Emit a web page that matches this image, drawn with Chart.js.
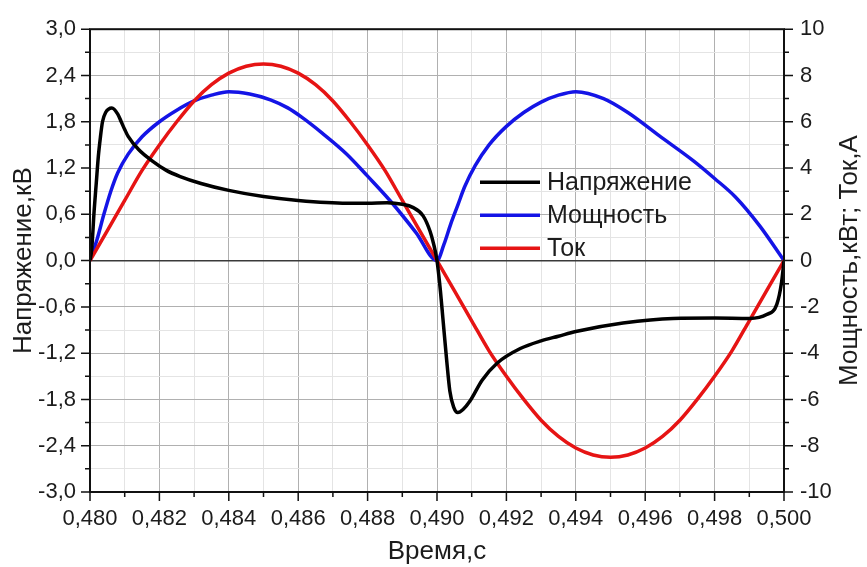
<!DOCTYPE html>
<html>
<head>
<meta charset="utf-8">
<title>Напряжение, мощность и ток</title>
<script src="https://cdn.jsdelivr.net/npm/chart.js@4.4.1/dist/chart.umd.min.js"></script>
<style>
  html, body { margin: 0; padding: 0; background: #fff; }
  #wrap { position: relative; width: 867px; height: 567px; }
</style>
</head>
<body>
<div id="wrap"><canvas id="waveChart"></canvas></div>
<script>
  /* Напряжение (кВ, левая ось), мощность (кВт) и ток (А) на правой оси */
  'use strict';

  var voltageTime = [
    0.4800, 0.48005, 0.48012, 0.48018, 0.48024, 0.48030, 0.48036, 0.48045, 0.48063,
    0.48080, 0.48090, 0.48100, 0.48110, 0.48140, 0.48180, 0.48220, 0.48260, 0.48320,
    0.48400, 0.48500, 0.48600, 0.48740, 0.48800, 0.48856, 0.48900, 0.48930, 0.48960,
    0.48980, 0.48990, 0.49000,
    0.49010, 0.49017, 0.49027, 0.49037, 0.49048, 0.49060, 0.49075, 0.49095, 0.49130,
    0.49173, 0.49240, 0.49300, 0.49350, 0.49400, 0.49536, 0.49680, 0.49800, 0.49900,
    0.49950, 0.49979, 0.49993, 0.50000
  ];
  var voltageValues = [
    0, 0.15, 0.65, 1.00, 1.35, 1.60, 1.80, 1.92, 1.98,
    1.90, 1.80, 1.70, 1.61, 1.44, 1.29, 1.17, 1.09, 1.00,
    0.91, 0.83, 0.78, 0.745, 0.745, 0.75, 0.73, 0.69, 0.58,
    0.38, 0.22, 0,
    -0.40, -0.75, -1.25, -1.69, -1.90, -1.97, -1.93, -1.82, -1.55,
    -1.33, -1.14, -1.04, -0.98, -0.92, -0.81, -0.75, -0.745, -0.75,
    -0.70, -0.57, -0.28, 0
  ];

  var powerTime = [
    0.4800, 0.4802, 0.4804, 0.4806, 0.4808, 0.4811, 0.4815, 0.4820, 0.4825, 0.4830,
    0.4835, 0.4840, 0.4846, 0.4852, 0.4857, 0.4861, 0.4867, 0.4874, 0.4880, 0.4887,
    0.4894, 0.4900,
    0.4902, 0.4904, 0.4906, 0.4908, 0.4911, 0.4915, 0.4920, 0.4925, 0.4930, 0.4935,
    0.4940, 0.4948, 0.4955, 0.4964, 0.4974, 0.4980, 0.4986, 0.4993, 0.5000
  ];
  var powerValues = [
    0, 0.9, 2.0, 3.0, 3.8, 4.6, 5.35, 6.0, 6.5, 6.9,
    7.15, 7.3, 7.2, 6.95, 6.6, 6.2, 5.5, 4.6, 3.65, 2.5,
    1.2, 0,
    0.7, 1.6, 2.4, 3.2, 4.1, 5.0, 5.8, 6.4, 6.85, 7.15,
    7.3, 7.0, 6.4, 5.4, 4.3, 3.55, 2.75, 1.5, 0
  ];

  var currentTime = [
    0.4800, 0.4805, 0.4810, 0.4815, 0.4820, 0.4825, 0.4830, 0.4835, 0.4840, 0.4845,
    0.4850, 0.4855, 0.4860, 0.4865, 0.4870, 0.4875, 0.4880, 0.4885, 0.4890, 0.4895,
    0.4900, 0.4905, 0.4910, 0.4915, 0.4920, 0.4925, 0.4930, 0.4935, 0.4940, 0.4945,
    0.4950, 0.4955, 0.4960, 0.4965, 0.4970, 0.4975, 0.4980, 0.4985, 0.4990, 0.4995,
    0.5000
  ];
  var currentValues = [
    0, 1.3, 2.6, 3.9, 5.0, 6.0, 6.9, 7.6, 8.1, 8.4,
    8.5, 8.4, 8.1, 7.6, 6.9, 6.0, 5.0, 3.9, 2.6, 1.3,
    0, -1.3, -2.6, -3.9, -5.0, -6.0, -6.9, -7.6, -8.1, -8.4,
    -8.5, -8.4, -8.1, -7.6, -6.9, -6.0, -5.0, -3.9, -2.6, -1.3,
    0
  ];

  var timeTickLabels = ['0,480', '0,482', '0,484', '0,486', '0,488', '0,490',
                        '0,492', '0,494', '0,496', '0,498', '0,500'];
  var voltageTickLabels = ['-3,0', '-2,4', '-1,8', '-1,2', '-0,6', '0,0',
                           '0,6', '1,2', '1,8', '2,4', '3,0'];
  var rightTickLabels = ['-10', '-8', '-6', '-4', '-2', '0', '2', '4', '6', '8', '10'];

  var seriesNames = ['Напряжение', 'Мощность', 'Ток'];
  var seriesColors = ['#000000', '#1414e6', '#e61414'];

  function points(xs, ys) {
    return xs.map(function (x, i) { return { x: x, y: ys[i] }; });
  }

  var FONT = "'Liberation Sans', Arial, sans-serif";
  var TEXT = '#1c1c1c';
  var GRID_MAJOR = '#b0b0b0';
  var GRID_MINOR = '#e4e4e4';
  var TICK_SIZE = 22;
  var TITLE_SIZE = 26;

  function everyOther(labels) {
    return function (value, index) {
      return index % 2 ? '' : labels[index / 2];
    };
  }

  // tick marks, frame, legend and the right axis title
  var decorations = {
    id: 'decorations',
    afterDraw: function (chart) {
      var c = chart.ctx;
      var a = chart.chartArea;
      var sx = chart.scales.x, sy = chart.scales.y, sy1 = chart.scales.y1;
      c.save();
      c.strokeStyle = '#111';
      c.lineWidth = 1.5;
      c.beginPath();
      sx.ticks.forEach(function (t, i) {
        var p = sx.getPixelForTick(i), len = i % 2 ? 5 : 9;
        c.moveTo(p, a.bottom); c.lineTo(p, a.bottom + len);
      });
      sy.ticks.forEach(function (t, i) {
        var p = sy.getPixelForTick(i), len = i % 2 ? 5 : 9;
        c.moveTo(a.left, p); c.lineTo(a.left - len, p);
      });
      sy1.ticks.forEach(function (t, i) {
        var p = sy1.getPixelForTick(i), len = i % 2 ? 5 : 9;
        c.moveTo(a.right, p); c.lineTo(a.right + len, p);
      });
      c.stroke();

      c.lineWidth = 2;
      c.strokeRect(a.left, a.top, a.right - a.left, a.bottom - a.top);

      // legend
      var lx = a.left + 390, ly = a.top + 153, step = 33;
      c.font = '25px ' + FONT;
      c.textBaseline = 'middle';
      c.textAlign = 'left';
      seriesNames.forEach(function (name, i) {
        var y = ly + i * step;
        c.strokeStyle = seriesColors[i];
        c.lineWidth = 3.5;
        c.beginPath(); c.moveTo(lx, y); c.lineTo(lx + 60, y); c.stroke();
        c.fillStyle = TEXT;
        c.fillText(name, lx + 67, y + 1);
      });

      // right axis title, reading bottom to top
      c.translate(850, (a.top + a.bottom) / 2);
      c.rotate(-Math.PI / 2);
      c.textAlign = 'center';
      c.font = TITLE_SIZE + 'px ' + FONT;
      c.fillText('Мощность,кВт; Ток,А', 0, 0);
      c.restore();
    }
  };

  var ctx = document.getElementById('waveChart');

  new Chart(ctx, {
    type: 'line',
    data: {
      datasets: [
        {
          label: seriesNames[0],
          data: points(voltageTime, voltageValues),
          borderColor: seriesColors[0],
          yAxisID: 'y',
          order: 0
        },
        {
          label: seriesNames[1],
          data: points(powerTime, powerValues),
          borderColor: seriesColors[1],
          yAxisID: 'y1',
          order: 2
        },
        {
          label: seriesNames[2],
          data: points(currentTime, currentValues),
          borderColor: seriesColors[2],
          yAxisID: 'y1',
          order: 1
        }
      ]
    },
    options: {
      responsive: true,
      maintainAspectRatio: false,
      animation: false,
      layout: { padding: { top: 25, left: 0, right: 0, bottom: 0 } },
      elements: {
        point: { radius: 0 },
        line: { borderWidth: 3.5, fill: false, cubicInterpolationMode: 'monotone' }
      },
      plugins: {
        legend: { display: false },
        tooltip: { enabled: false }
      },
      scales: {
        x: {
          type: 'linear',
          min: 0.48,
          max: 0.5,
          afterFit: function (s) { s.height = 75; },
          ticks: {
            stepSize: 0.001,
            autoSkip: false,
            maxRotation: 0,
            padding: 14,
            color: TEXT,
            font: { family: FONT, size: TICK_SIZE },
            callback: everyOther(timeTickLabels)
          },
          grid: {
            drawTicks: false,
            color: function (c) { return c.index % 2 ? GRID_MINOR : GRID_MAJOR; }
          },
          border: { display: false },
          title: {
            display: true,
            text: 'Время,с',
            color: TEXT,
            font: { family: FONT, size: TITLE_SIZE },
            padding: { top: 0, bottom: 0 }
          }
        },
        y: {
          position: 'left',
          min: -3,
          max: 3,
          afterFit: function (s) { s.width = 90; },
          ticks: {
            stepSize: 0.3,
            autoSkip: false,
            padding: 14,
            color: TEXT,
            font: { family: FONT, size: TICK_SIZE },
            callback: everyOther(voltageTickLabels)
          },
          grid: {
            drawTicks: false,
            color: function (c) {
              if (Math.abs(c.tick.value) < 1e-9) { return '#3a3a3a'; }
              return c.index % 2 ? GRID_MINOR : GRID_MAJOR;
            },
            lineWidth: function (c) { return Math.abs(c.tick.value) < 1e-9 ? 1.5 : 1; }
          },
          border: { display: false },
          title: {
            display: true,
            text: 'Напряжение,кВ',
            color: TEXT,
            font: { family: FONT, size: TITLE_SIZE },
            padding: { top: 8, bottom: 0 }
          }
        },
        y1: {
          position: 'right',
          min: -10,
          max: 10,
          afterFit: function (s) { s.width = 83; },
          ticks: {
            stepSize: 1,
            autoSkip: false,
            padding: 16,
            color: TEXT,
            font: { family: FONT, size: TICK_SIZE },
            callback: everyOther(rightTickLabels)
          },
          grid: { drawOnChartArea: false, drawTicks: false },
          border: { display: false }
        }
      }
    },
    plugins: [decorations]
  });
</script>
</body>
</html>
